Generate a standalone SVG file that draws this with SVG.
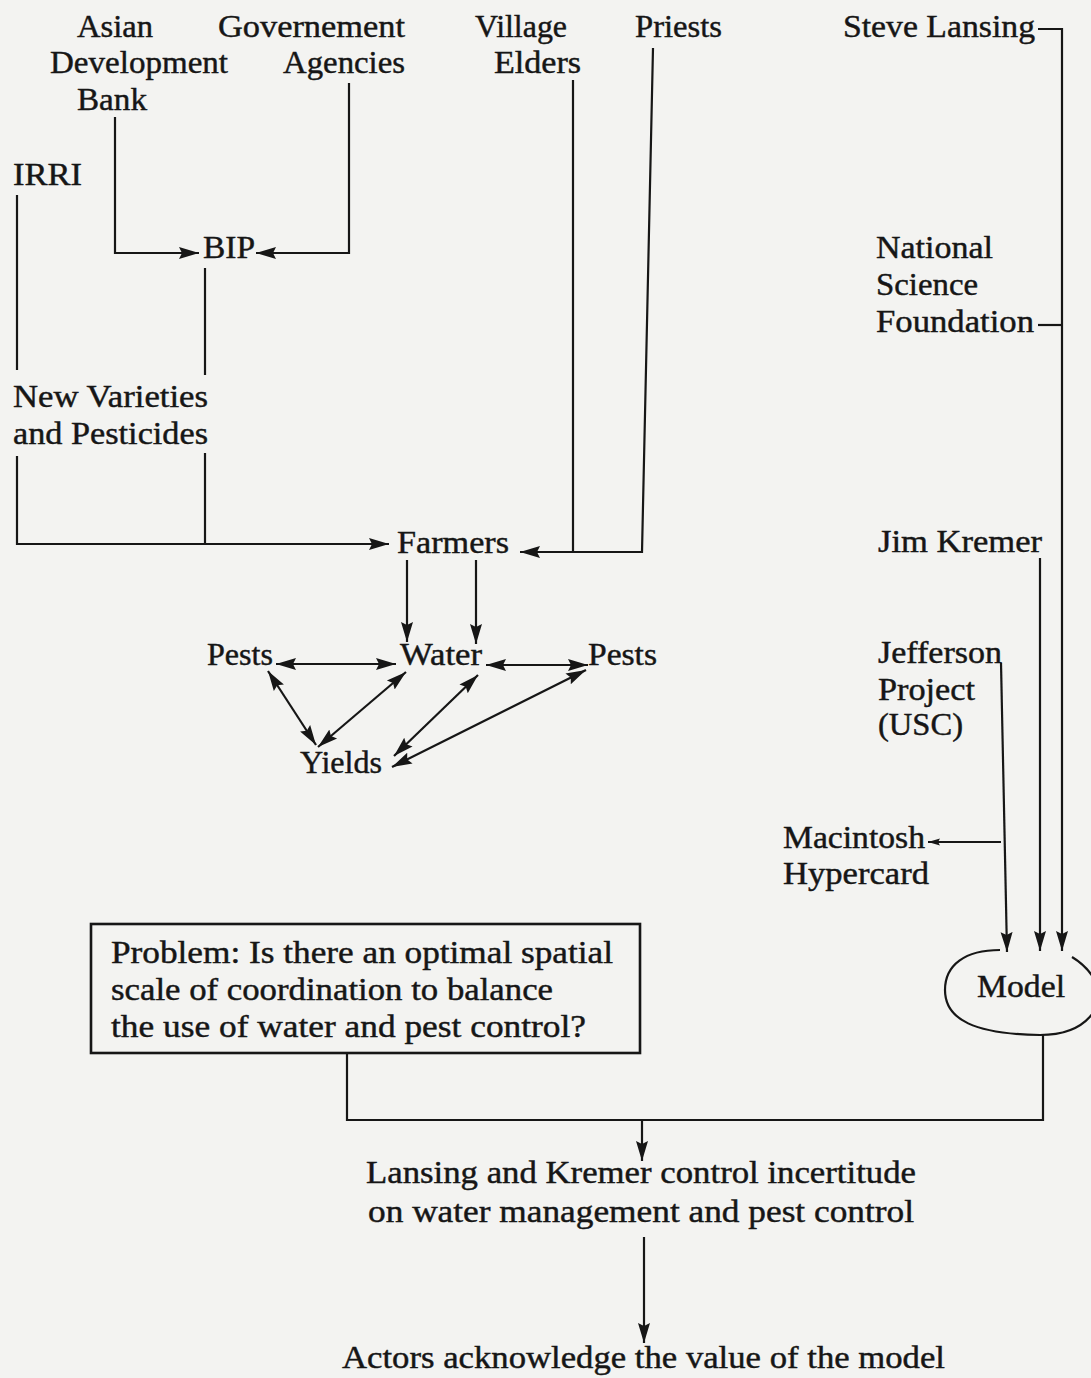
<svg xmlns="http://www.w3.org/2000/svg" width="1091" height="1378" viewBox="0 0 1091 1378">
<defs>
<style>
text{font-family:"Liberation Serif","Times New Roman",serif;font-size:32px;fill:#161616;stroke:#161616;stroke-width:0.45;}
.c{fill:none;stroke:#161616;stroke-width:2.2;}
.box{fill:none;stroke:#161616;stroke-width:2.6;}
</style>
<marker id="ah" markerUnits="userSpaceOnUse" markerWidth="22" markerHeight="14" refX="20" refY="7" orient="auto-start-reverse">
<path d="M0,1 L20,7 L0,13 L3,7 Z" fill="#161616"/>
</marker>
<marker id="ahs" markerUnits="userSpaceOnUse" markerWidth="13" markerHeight="9" refX="12" refY="4.5" orient="auto-start-reverse">
<path d="M0,1 L12,4.5 L0,8 L2,4.5 Z" fill="#161616"/>
</marker>
</defs>
<rect x="0" y="0" width="1091" height="1378" fill="#f3f3f1"/>

<g id="adb"><text x="77" y="37" textLength="76" lengthAdjust="spacingAndGlyphs">Asian</text><text x="50" y="73" textLength="178" lengthAdjust="spacingAndGlyphs">Development</text><text x="77" y="110" textLength="70" lengthAdjust="spacingAndGlyphs">Bank</text></g>
<g id="gov"><text x="218" y="37" textLength="187" lengthAdjust="spacingAndGlyphs">Governement</text><text x="283" y="73" textLength="122" lengthAdjust="spacingAndGlyphs">Agencies</text></g>
<g id="elders"><text x="475" y="37" textLength="92" lengthAdjust="spacingAndGlyphs">Village</text><text x="494" y="73" textLength="87" lengthAdjust="spacingAndGlyphs">Elders</text></g>
<g id="priests"><text x="635" y="37" textLength="87" lengthAdjust="spacingAndGlyphs">Priests</text></g>
<g id="lansing"><text x="843" y="37" textLength="192" lengthAdjust="spacingAndGlyphs">Steve Lansing</text></g>
<g id="irri"><text x="13" y="185" textLength="69" lengthAdjust="spacingAndGlyphs">IRRI</text></g>
<g id="bip"><text x="203" y="258" textLength="52" lengthAdjust="spacingAndGlyphs">BIP</text></g>
<g id="nsf"><text x="876" y="258" textLength="117" lengthAdjust="spacingAndGlyphs">National</text><text x="876" y="295" textLength="102" lengthAdjust="spacingAndGlyphs">Science</text><text x="876" y="332" textLength="158" lengthAdjust="spacingAndGlyphs">Foundation</text></g>
<g id="varieties"><text x="13" y="407" textLength="195" lengthAdjust="spacingAndGlyphs">New Varieties</text><text x="13" y="444" textLength="195" lengthAdjust="spacingAndGlyphs">and Pesticides</text></g>
<g id="farmers"><text x="397" y="553" textLength="112" lengthAdjust="spacingAndGlyphs">Farmers</text></g>
<g id="kremer"><text x="878" y="552" textLength="164" lengthAdjust="spacingAndGlyphs">Jim Kremer</text></g>
<g id="pests1"><text x="207" y="665" textLength="66" lengthAdjust="spacingAndGlyphs">Pests</text></g>
<g id="water"><text x="400" y="665" textLength="82" lengthAdjust="spacingAndGlyphs">Water</text></g>
<g id="pests2"><text x="588" y="665" textLength="69" lengthAdjust="spacingAndGlyphs">Pests</text></g>
<g id="yields"><text x="300" y="773" textLength="82" lengthAdjust="spacingAndGlyphs">Yields</text></g>
<g id="jefferson"><text x="878" y="663" textLength="124" lengthAdjust="spacingAndGlyphs">Jefferson</text><text x="878" y="700" textLength="97" lengthAdjust="spacingAndGlyphs">Project</text><text x="878" y="735" textLength="85" lengthAdjust="spacingAndGlyphs">(USC)</text></g>
<g id="mac"><text x="783" y="848" textLength="142" lengthAdjust="spacingAndGlyphs">Macintosh</text><text x="783" y="884" textLength="146" lengthAdjust="spacingAndGlyphs">Hypercard</text></g>
<g id="problem">
<rect class="box" x="91" y="924" width="549" height="129"/>
<text x="111" y="963" textLength="502" lengthAdjust="spacingAndGlyphs">Problem: Is there an optimal spatial</text>
<text x="111" y="1000" textLength="442" lengthAdjust="spacingAndGlyphs">scale of coordination to balance</text>
<text x="111" y="1037" textLength="475" lengthAdjust="spacingAndGlyphs">the use of water and pest control?</text>
</g>
<g id="model">
<path class="c" d="M1000,950 C965,950 945,965 945,990 C945,1020 975,1034 1040,1035 C1068,1035 1085,1026 1095,1010"/>
<path class="c" d="M1072,957 C1082,963 1089,970 1095,980"/>
<text x="977" y="997" textLength="88" lengthAdjust="spacingAndGlyphs">Model</text>
</g>
<g id="lk"><text x="366" y="1183" textLength="550" lengthAdjust="spacingAndGlyphs">Lansing and Kremer control incertitude</text><text x="368" y="1222" textLength="546" lengthAdjust="spacingAndGlyphs">on water management and pest control</text></g>
<g id="actors"><text x="342" y="1368" textLength="603" lengthAdjust="spacingAndGlyphs">Actors acknowledge the value of the model</text></g>

<g id="connectors">
<path class="c" d="M115,117 V253 H199" marker-end="url(#ah)"/>
<path class="c" d="M349,83 V253 H256" marker-end="url(#ah)"/>
<path class="c" d="M205,268 V375"/>
<path class="c" d="M17,195 V370"/>
<path class="c" d="M17,456 V544 H389" marker-end="url(#ah)"/>
<path class="c" d="M205,453 V544"/>
<path class="c" d="M573,80 V551"/>
<path class="c" d="M653,48 L642,552 H520" marker-end="url(#ah)"/>
<path class="c" d="M407,560 V642" marker-end="url(#ah)"/>
<path class="c" d="M476,560 V644" marker-end="url(#ah)"/>
<path class="c" d="M276,664 H396" marker-start="url(#ah)" marker-end="url(#ah)"/>
<path class="c" d="M486,665 H588" marker-start="url(#ah)" marker-end="url(#ah)"/>
<path class="c" d="M268,671 L316,745" marker-start="url(#ah)" marker-end="url(#ah)"/>
<path class="c" d="M406,672 L318,747" marker-start="url(#ah)" marker-end="url(#ah)"/>
<path class="c" d="M478,675 L394,756" marker-start="url(#ah)" marker-end="url(#ah)"/>
<path class="c" d="M586,670 L392,767" marker-start="url(#ah)" marker-end="url(#ah)"/>
<path class="c" d="M1038,29 H1062 V951" marker-end="url(#ah)"/>
<path class="c" d="M1038,325 H1062"/>
<path class="c" d="M1040,558 V951" marker-end="url(#ah)"/>
<path class="c" d="M1001,663 L1007,952" marker-end="url(#ah)"/>
<path class="c" d="M1001,842 H928" marker-end="url(#ahs)"/>
<path class="c" d="M1043,1035 V1120 H347 V1053"/>
<path class="c" d="M642,1120 V1161" marker-end="url(#ah)"/>
<path class="c" d="M644,1237 V1343" marker-end="url(#ah)"/>
</g>
</svg>
